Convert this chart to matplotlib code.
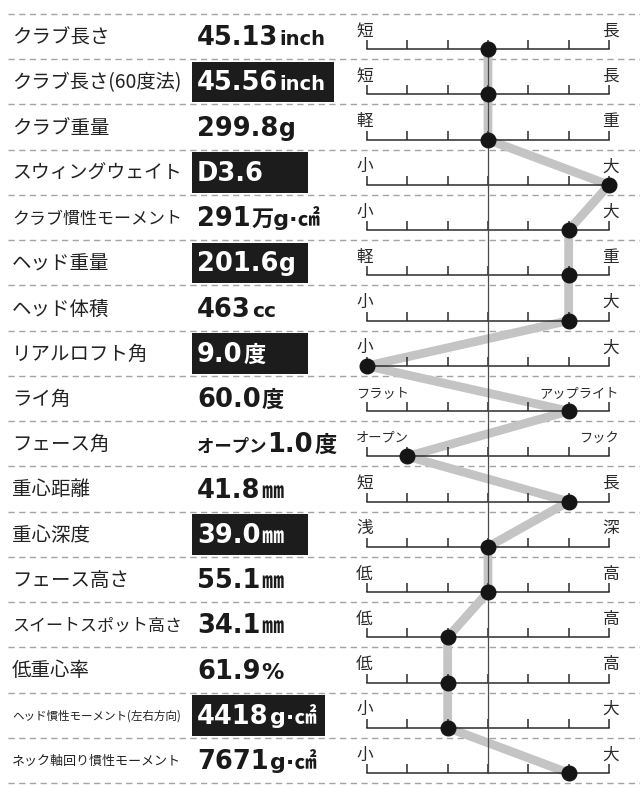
import matplotlib
matplotlib.use("Agg")
import matplotlib.pyplot as plt
from matplotlib.patches import Rectangle

# ---------------- data ----------------
labels = ["クラブ長さ", "クラブ長さ(60度法)", "クラブ重量", "スウィングウェイト",
          "クラブ慣性モーメント", "ヘッド重量", "ヘッド体積", "リアルロフト角", "ライ角",
          "フェース角", "重心距離", "重心深度", "フェース高さ", "スイートスポット高さ",
          "低重心率", "ヘッド慣性モーメント(左右方向)", "ネック軸回り慣性モーメント"]
prefixes = ["", "", "", "", "", "", "", "", "", "オープン", "", "", "", "", "", "", ""]
values = ["45.13", "45.56", "299.8", "D3.6", "291", "201.6", "463", "9.0", "60.0",
          "1.0", "41.8", "39.0", "55.1", "34.1", "61.9", "4418", "7671"]
units = ["inch", "inch", "g", "", "万g·㎠", "g", "cc", "度", "度", "度", "㎜", "㎜",
         "㎜", "㎜", "%", "g·㎠", "g·㎠"]
highlight = [False, True, False, True, False, True, False, True, False, False,
             False, True, False, False, False, True, False]
positions = [3, 3, 3, 6, 5, 5, 5, 0, 5, 1, 5, 3, 3, 2, 2, 2, 5]
left_ends = ["短", "短", "軽", "小", "小", "軽", "小", "小", "フラット", "オープン",
             "短", "浅", "低", "低", "低", "小", "小"]
right_ends = ["長", "長", "重", "大", "大", "重", "大", "大", "アップライト", "フック",
              "長", "深", "高", "高", "高", "大", "大"]
scale_steps = 6

# ---------------- layout ----------------
W, H, DPI = 640, 788, 100
CJK = "Noto Sans CJK JP"
fig = plt.figure(figsize=(W / DPI, H / DPI), dpi=DPI)
fig.patch.set_facecolor("white")

bg = fig.add_axes([0, 0, 1, 1])
bg.set_xlim(0, W)
bg.set_ylim(H, 0)
bg.axis("off")

n = len(labels)
top, bottom = 14.0, 783.0
pitch = (bottom - top) / n
base_off = pitch - 10.0

x0_px, x6_px = 367.0, 609.0
ppu = (x6_px - x0_px) / scale_steps
b0 = top + base_off
ax = fig.add_axes([0, 0, 1, 1])
ax.set_xlim(-x0_px / ppu, (W - x0_px) / ppu)
ax.set_ylim((H - b0) / pitch, -b0 / pitch)
ax.axis("off")
ax.patch.set_alpha(0)

# dashed separators
for k in range(n + 1):
    y = top + k * pitch
    bg.plot([8, W], [y, y], color="#a3a3a3", lw=1.0, linestyle=(0, (4.5, 3.2)),
            zorder=1)

# scales
rows = list(range(n))
tick_h = 9.0 / pitch
for i in rows:
    ax.plot([0, scale_steps], [i, i], color="#2b2b2b", lw=1.1, zorder=2)
    ax.vlines(range(scale_steps + 1), i - tick_h, i, color="#2b2b2b", lw=1.1, zorder=2)
ax.plot([scale_steps / 2, scale_steps / 2], [0, n - 1], color="#4a4a4a", lw=0.9, zorder=2)
ax.plot(positions, rows, color="#c4c4c4", lw=6.3, solid_capstyle="round",
        solid_joinstyle="round", zorder=1.5)
ax.plot(positions, rows, "o", color="#151515", ms=10.5, zorder=4)

# end labels
for i in rows:
    yb = top + i * pitch + base_off - 18
    for txt, xx, ha in ((left_ends[i], 356, "left"), (right_ends[i], 619, "right")):
        fs = 12 if len(txt) == 1 else 9.5
        bg.text(xx, yb, txt, ha=ha, va="center", fontsize=fs, family=CJK,
                color="#2a2a2a", zorder=5)

fig.canvas.draw()
renderer = fig.canvas.get_renderer()


def width_px(t):
    return t.get_window_extent(renderer).width


# left labels
max_w = 170.0
for i in rows:
    yc = top + i * pitch + pitch / 2 + 1
    t = bg.text(12, yc, labels[i], ha="left", va="center", fontsize=14, family=CJK,
                color="#222222", zorder=5)
    w = width_px(t)
    if w > max_w:
        t.set_fontsize(14 * max_w / w)

unit_sizes = {"inch": 14, "g": 17, "cc": 14.5, "度": 16, "㎜": 16, "%": 16,
              "万g·㎠": 16, "g·㎠": 16, "": 14}

# values
for i in rows:
    ybase = top + (i + 1) * pitch - 14
    col = "white" if highlight[i] else "#1a1a1a"
    x = 197.0
    if prefixes[i]:
        t = bg.text(x, ybase, prefixes[i], ha="left", va="baseline", fontsize=12.5,
                    family=CJK, weight="bold", color=col, zorder=6)
        x += width_px(t) + 1
    t = bg.text(x, ybase, values[i], ha="left", va="baseline", fontsize=18.5,
                family="DejaVu Sans", weight="bold", color=col, zorder=6)
    x += width_px(t) + 1
    if units[i]:
        t = bg.text(x, ybase, units[i], ha="left", va="baseline",
                    fontsize=unit_sizes[units[i]], family=["DejaVu Sans", CJK],
                    weight="bold", color=col, zorder=6)
        x += width_px(t)
    if highlight[i]:
        bw = max(116.0, x - 192.0 + 9)
        bg.add_patch(Rectangle((192, top + i * pitch + 2.5), bw, pitch - 4.5,
                               facecolor="#1c1c1c", edgecolor="none", zorder=3))

fig.savefig("out.png", dpi=DPI, facecolor="white")
